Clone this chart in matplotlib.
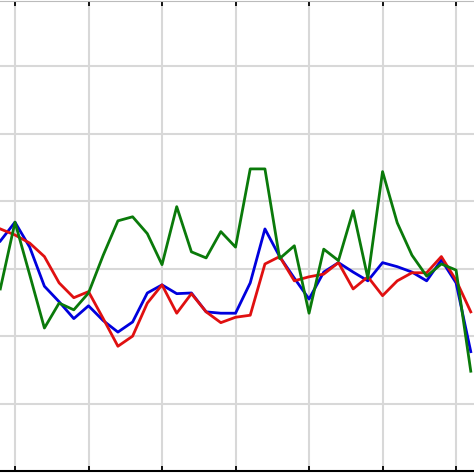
import numpy as np
import matplotlib
matplotlib.use("Agg")
import matplotlib.pyplot as plt

# values (one point per step, grid every 5 steps)
steps = np.arange(33)

blue_vals = [3.41, 3.69, 3.32, 2.74, 2.51, 2.26, 2.45, 2.23, 2.06, 2.21,
             2.64, 2.76, 2.63, 2.64, 2.36, 2.34, 2.34, 2.79, 3.59, 3.18,
             2.86, 2.55, 2.95, 3.09, 2.95, 2.82, 3.09, 3.03, 2.95, 2.82,
             3.13, 2.79, 1.77]
red_vals = [3.59, 3.50, 3.38, 3.18, 2.79, 2.57, 2.66, 2.26, 1.85, 2.00,
            2.49, 2.76, 2.34, 2.63, 2.36, 2.20, 2.28, 2.31, 3.07, 3.18,
            2.82, 2.88, 2.92, 3.09, 2.70, 2.88, 2.60, 2.82, 2.94, 2.94,
            3.18, 2.83, 2.36]
green_vals = [2.70, 3.69, 2.91, 2.12, 2.49, 2.39, 2.64, 3.20, 3.71, 3.77,
              3.52, 3.06, 3.92, 3.25, 3.16, 3.55, 3.32, 4.48, 4.48, 3.15,
              3.34, 2.34, 3.29, 3.12, 3.86, 2.86, 4.44, 3.68, 3.20, 2.89,
              3.07, 2.98, 1.48]

xticks = [1, 6, 11, 16, 21, 26, 31]
yticks = [1, 2, 3, 4, 5, 6]

fig = plt.figure(figsize=(4.74, 4.74), dpi=100)
ax = fig.add_axes([0, 3 / 474, 1, 470 / 474])

ax.plot(steps, blue_vals, color='#0000dd', lw=2.0)
ax.plot(steps, red_vals, color='#e01010', lw=2.0)
ax.plot(steps, green_vals, color='#0a7a0a', lw=2.0)

ax.set_xlim(-0.02, 32.22)
ax.set_ylim(0, 6.97)
ax.set_xticks(xticks)
ax.set_yticks(yticks)
ax.set_xticklabels([])
ax.set_yticklabels([])
ax.grid(True, color='#d8d8d8', lw=1.5)
ax.set_axisbelow(True)
ax.tick_params(axis='x', direction='in', top=True, bottom=True,
               length=3.5, width=1.3, color='black')
ax.tick_params(axis='y', left=False, right=False)
ax.spines['left'].set_visible(False)
ax.spines['right'].set_visible(False)
ax.spines['bottom'].set_linewidth(1.5)
ax.spines['top'].set_linewidth(0.8)
ax.spines['top'].set_color('#bbbbbb')

fig.savefig('out.png', dpi=100)
